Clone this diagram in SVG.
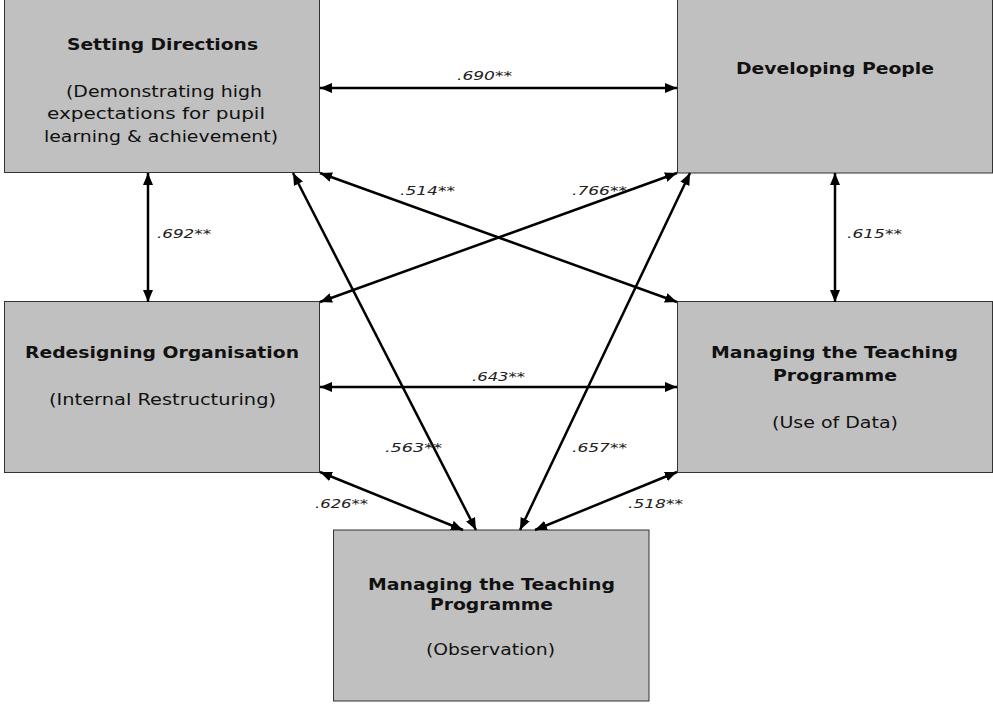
<svg xmlns="http://www.w3.org/2000/svg" width="993" height="709" viewBox="0 0 993 709">
<style>
.box{fill:#c0c0c0;stroke:#333;stroke-width:1}
.t{font-family:"DejaVu Sans",Verdana,sans-serif;fill:#111}
.b{font-size:16.5px;font-weight:bold}
.r{font-size:15.5px}
.lab{font-family:"DejaVu Sans",Verdana,sans-serif;font-size:12px;font-style:italic;fill:#222}
.c{stroke:#000;stroke-width:2.5;fill:none;marker-start:url(#ah);marker-end:url(#ah)}
</style>
<defs>
<marker id="ah" markerUnits="userSpaceOnUse" markerWidth="12" markerHeight="10" refX="12" refY="5" orient="auto-start-reverse"><path d="M0,0 L12,5 L0,10 z" fill="#000"/></marker>
</defs>
<rect width="993" height="709" fill="#fff"/>
<g id="setting-directions">
<rect class="box" x="4.5" y="-1" width="315" height="173.5"/>
<text class="t b" x="67" y="50" textLength="191" lengthAdjust="spacingAndGlyphs">Setting Directions</text>
<text class="t r" x="66" y="97" textLength="196" lengthAdjust="spacingAndGlyphs">(Demonstrating high</text>
<text class="t r" x="47" y="119" textLength="218" lengthAdjust="spacingAndGlyphs">expectations for pupil</text>
<text class="t r" x="44" y="142" textLength="234" lengthAdjust="spacingAndGlyphs">learning &amp; achievement)</text>
</g>
<g id="developing-people">
<rect class="box" x="677.5" y="-1" width="315" height="174"/>
<text class="t b" x="736" y="74" textLength="198" lengthAdjust="spacingAndGlyphs">Developing People</text>
</g>
<g id="redesigning-organisation">
<rect class="box" x="4.5" y="301.5" width="315" height="171"/>
<text class="t b" x="25" y="358" textLength="274" lengthAdjust="spacingAndGlyphs">Redesigning Organisation</text>
<text class="t r" x="49" y="405" textLength="227" lengthAdjust="spacingAndGlyphs">(Internal Restructuring)</text>
</g>
<g id="managing-data">
<rect class="box" x="677.5" y="301.5" width="315" height="171"/>
<text class="t b" x="711" y="358" textLength="247" lengthAdjust="spacingAndGlyphs">Managing the Teaching</text>
<text class="t b" x="773" y="381" textLength="124" lengthAdjust="spacingAndGlyphs">Programme</text>
<text class="t r" x="772" y="428" textLength="126" lengthAdjust="spacingAndGlyphs">(Use of Data)</text>
</g>
<g id="managing-observation">
<rect class="box" x="333.5" y="530" width="315.5" height="171"/>
<text class="t b" x="368" y="590" textLength="247" lengthAdjust="spacingAndGlyphs">Managing the Teaching</text>
<text class="t b" x="430" y="610" textLength="123" lengthAdjust="spacingAndGlyphs">Programme</text>
<text class="t r" x="426" y="655" textLength="129" lengthAdjust="spacingAndGlyphs">(Observation)</text>
</g>
<g id="connectors">
<line class="c" x1="320" y1="88" x2="677" y2="88"/>
<line class="c" x1="148" y1="173" x2="148" y2="302"/>
<line class="c" x1="835" y1="173" x2="835" y2="302"/>
<line class="c" x1="320" y1="387" x2="677" y2="387"/>
<line class="c" x1="320" y1="173" x2="677" y2="302"/>
<line class="c" x1="320" y1="302" x2="677" y2="173"/>
<line class="c" x1="293" y1="173" x2="476" y2="530"/>
<line class="c" x1="690" y1="173" x2="520" y2="530"/>
<line class="c" x1="320" y1="472" x2="463" y2="530"/>
<line class="c" x1="677" y1="472" x2="535" y2="530"/>
<text class="lab" x="457" y="80" textLength="55" lengthAdjust="spacingAndGlyphs">.690**</text>
<text class="lab" x="400" y="195" textLength="55" lengthAdjust="spacingAndGlyphs">.514**</text>
<text class="lab" x="572" y="195" textLength="55" lengthAdjust="spacingAndGlyphs">.766**</text>
<text class="lab" x="157" y="238" textLength="54" lengthAdjust="spacingAndGlyphs">.692**</text>
<text class="lab" x="847" y="238" textLength="55" lengthAdjust="spacingAndGlyphs">.615**</text>
<text class="lab" x="472" y="381" textLength="53" lengthAdjust="spacingAndGlyphs">.643**</text>
<text class="lab" x="385" y="452" textLength="57" lengthAdjust="spacingAndGlyphs">.563**</text>
<text class="lab" x="572" y="452" textLength="55" lengthAdjust="spacingAndGlyphs">.657**</text>
<text class="lab" x="315" y="508" textLength="53" lengthAdjust="spacingAndGlyphs">.626**</text>
<text class="lab" x="628" y="508" textLength="55" lengthAdjust="spacingAndGlyphs">.518**</text>
</g>
</svg>
